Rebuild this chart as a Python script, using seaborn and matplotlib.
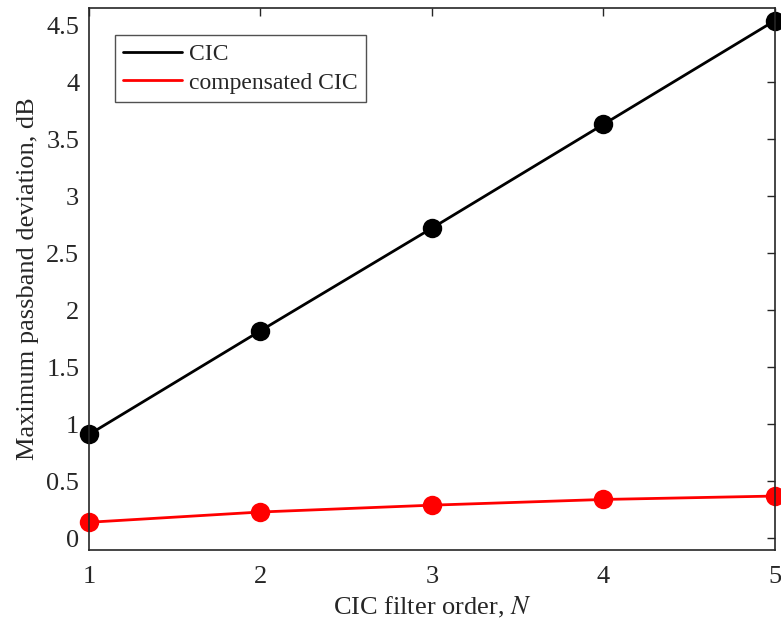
import pandas as pd
import matplotlib
matplotlib.use("Agg")
import matplotlib.pyplot as plt
import seaborn as sns

# Données
orders = [1, 2, 3, 4, 5]
cic_dev = [0.91, 1.82, 2.72, 3.63, 4.54]
comp_dev = [0.14, 0.23, 0.29, 0.34, 0.37]
series_names = ["CIC", "compensated CIC"]

df = pd.DataFrame({
    "N": orders * 2,
    "dev": cic_dev + comp_dev,
    "serie": [series_names[0]] * len(orders) + [series_names[1]] * len(orders),
})

sns.set_theme(style="white")
plt.rcParams["font.family"] = ["Liberation Serif", "DejaVu Serif"]
plt.rcParams["mathtext.fontset"] = "stix"

fs = 19
fig = plt.figure(figsize=(7.81, 6.26), dpi=100)
ax = fig.add_axes([0.114, 0.122, 0.878, 0.865])

sns.lineplot(data=df, x="N", y="dev", hue="serie", palette=["black", "red"],
             marker="o", markersize=14, markeredgewidth=0, linewidth=2,
             ax=ax, clip_on=False)

ax.set_xlim(1, 5)
ax.set_ylim(-0.1, 4.65)
ax.set_xticks(orders)
ax.set_yticks([0, 0.5, 1, 1.5, 2, 2.5, 3, 3.5, 4, 4.5])
ax.set_yticklabels(["0", "0.5", "1", "1.5", "2", "2.5", "3", "3.5", "4", "4.5"])

ax.tick_params(direction="in", top=True, right=True, length=6, width=1,
               color="#262626", labelsize=fs, labelcolor="#262626")
ax.tick_params(axis="x", pad=12)
ax.tick_params(axis="y", pad=7)
for sp in ax.spines.values():
    sp.set_color("#262626")
    sp.set_linewidth(1.2)

ax.set_xlabel("CIC filter order, $\\mathit{N}$", fontsize=fs, color="#262626", labelpad=5)
ax.set_ylabel("Maximum passband deviation, dB", fontsize=fs, color="#262626", labelpad=5)

# légende : police un peu plus petite que les axes
leg = ax.legend(loc="upper left", bbox_to_anchor=(0.038, 0.95), fontsize=17,
                frameon=True, fancybox=False, edgecolor="#262626",
                handlelength=2.5, borderpad=0.35, labelspacing=0.3,
                handletextpad=0.3, borderaxespad=0)
leg.get_frame().set_linewidth(1.0)
for h in leg.legend_handles:
    h.set_marker("")

fig.savefig("out.png", dpi=100)
